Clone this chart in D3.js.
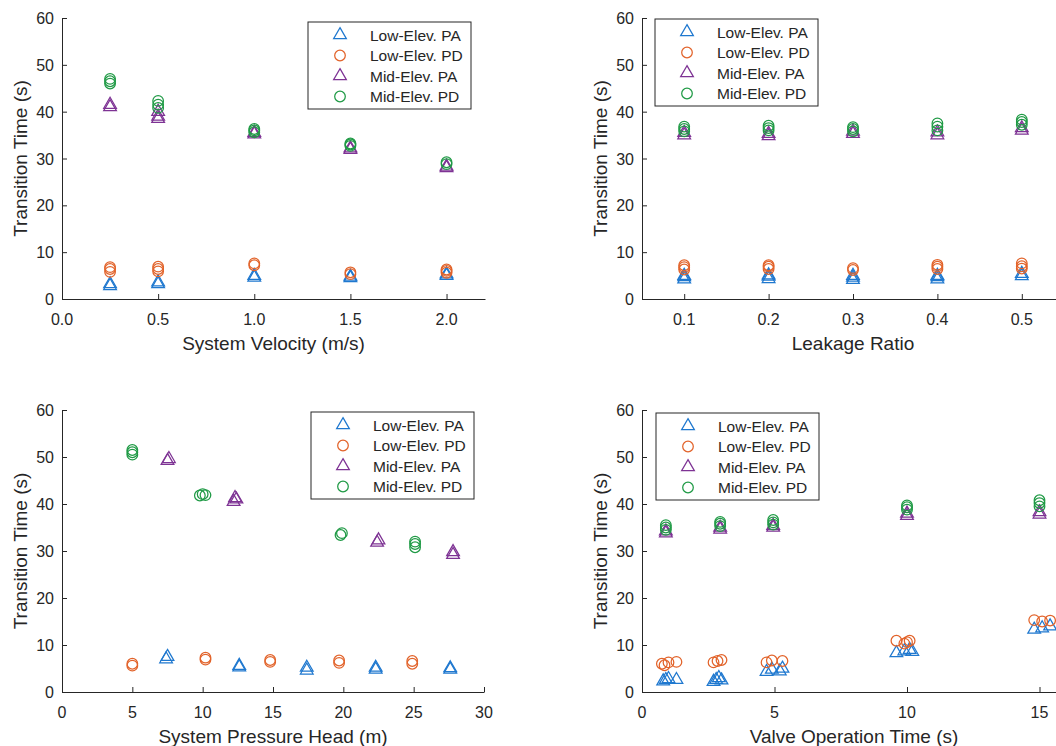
<!DOCTYPE html>
<html>
<head>
<meta charset="utf-8">
<script src="https://cdn.jsdelivr.net/npm/d3@7"></script>
<style>
  body { margin: 0; background: #fff; }
  svg { display: block; font-family: "Liberation Sans", Arial, sans-serif; }
</style>
</head>
<body>
<div id="chart"></div>
<script>
// series shared by all four panels
const seriesNames = ["Low-Elev. PA", "Low-Elev. PD", "Mid-Elev. PA", "Mid-Elev. PD"]
const seriesColors = ["#1f78cf", "#e2632a", "#7e3394", "#1f9a45"]
const seriesShapes = ["triangle", "circle", "triangle", "circle"]

// panel 1: system velocity (m/s)
const velocityTicks = [0, 0.5, 1, 1.5, 2]
const velLowPA = [[0.25, 2.8], [0.25, 3.2], [0.5, 3.2], [0.5, 3.6], [1, 4.6], [1, 5.0], [1.5, 4.5], [1.5, 4.8], [2, 5.0], [2, 5.3]]
const velLowPD = [[0.25, 5.8], [0.25, 6.4], [0.25, 6.8], [0.5, 5.9], [0.5, 6.4], [0.5, 6.9], [1, 7.2], [1, 7.6], [1.5, 5.3], [1.5, 5.7], [2, 5.6], [2, 6.0], [2, 6.3]]
const velMidPA = [[0.25, 41.0], [0.25, 41.5], [0.5, 38.5], [0.5, 39.0], [0.5, 40.0], [1, 35.2], [1, 35.5], [1.5, 31.9], [1.5, 32.2], [2, 28.0], [2, 28.3]]
const velMidPD = [[0.25, 46.0], [0.25, 46.5], [0.25, 47.0], [0.5, 40.8], [0.5, 41.5], [0.5, 42.3], [1, 35.6], [1, 36.0], [1, 36.3], [1.5, 32.7], [1.5, 33.0], [1.5, 33.2], [2, 28.8], [2, 29.2]]

// panel 2: leakage ratio
const leakageTicks = [0.1, 0.2, 0.3, 0.4, 0.5]
const leakLowPA = [[0.1, 4.2], [0.1, 4.7], [0.1, 5.0], [0.2, 4.3], [0.2, 4.8], [0.2, 5.1], [0.3, 4.1], [0.3, 4.6], [0.3, 5.0], [0.4, 4.2], [0.4, 4.7], [0.4, 5.0], [0.5, 4.9], [0.5, 5.4]]
const leakLowPD = [[0.1, 6.3], [0.1, 6.8], [0.1, 7.2], [0.2, 6.4], [0.2, 6.9], [0.2, 7.2], [0.3, 6.2], [0.3, 6.6], [0.4, 6.4], [0.4, 6.9], [0.4, 7.3], [0.5, 6.5], [0.5, 7.0], [0.5, 7.6]]
const leakMidPA = [[0.1, 35.0], [0.1, 35.5], [0.2, 34.8], [0.2, 35.3], [0.3, 35.3], [0.3, 35.8], [0.4, 35.0], [0.4, 35.6], [0.5, 36.0], [0.5, 36.5]]
const leakMidPD = [[0.1, 35.8], [0.1, 36.3], [0.1, 36.8], [0.2, 36.0], [0.2, 36.5], [0.2, 37.0], [0.3, 35.8], [0.3, 36.3], [0.3, 36.7], [0.4, 36.0], [0.4, 36.8], [0.4, 37.5], [0.5, 37.2], [0.5, 37.8], [0.5, 38.3]]

// panel 3: system pressure head (m)
const pressureTicks = [0, 5, 10, 15, 20, 25, 30]
const presLowPA = [[7.4, 7.0], [7.5, 7.5], [12.6, 5.3], [12.6, 5.6], [17.4, 4.6], [17.4, 5.2], [22.3, 4.8], [22.3, 5.2], [27.6, 4.8], [27.6, 5.1]]
const presLowPD = [[5.0, 5.6], [5.0, 6.0], [10.2, 6.9], [10.2, 7.3], [14.8, 6.4], [14.8, 6.8], [19.7, 6.2], [19.7, 6.7], [24.9, 6.0], [24.9, 6.6]]
const presMidPA = [[7.5, 49.2], [7.6, 49.6], [12.2, 40.5], [12.4, 41.0], [12.3, 41.3], [22.4, 31.8], [22.5, 32.3], [27.8, 29.2], [27.8, 29.8]]
const presMidPD = [[5.0, 50.5], [5.0, 51.0], [5.0, 51.5], [9.8, 41.8], [10.0, 42.1], [10.2, 41.9], [19.8, 33.4], [19.9, 33.8], [25.1, 30.8], [25.1, 31.5], [25.1, 32.0]]

// panel 4: valve operation time (s)
const valveTicks = [0, 5, 10, 15]
const valveLowPA = [[0.8, 2.3], [0.9, 2.6], [1.0, 2.8], [1.3, 2.6], [2.7, 2.2], [2.8, 2.6], [2.9, 3.0], [3.0, 2.5], [4.7, 4.3], [4.9, 4.8], [5.2, 4.4], [5.3, 5.0], [9.6, 8.3], [9.9, 8.7], [10.1, 9.0], [10.2, 8.6], [14.8, 13.3], [15.1, 13.6], [15.4, 14.0]]
const valveLowPD = [[0.75, 6.0], [0.85, 5.7], [1.0, 6.3], [1.3, 6.4], [2.7, 6.3], [2.85, 6.6], [3.0, 6.8], [4.7, 6.3], [4.9, 6.7], [5.3, 6.6], [9.6, 10.9], [9.9, 10.3], [10.0, 10.6], [10.1, 10.9], [14.8, 15.3], [15.1, 15.0], [15.4, 15.2]]
const valveMidPA = [[0.9, 33.8], [0.9, 34.2], [2.95, 34.6], [2.95, 35.0], [4.95, 35.0], [4.95, 35.4], [10.0, 37.5], [10.0, 38.0], [15.0, 37.8], [15.0, 38.3]]
const valveMidPD = [[0.9, 34.5], [0.9, 35.0], [0.9, 35.5], [2.95, 35.3], [2.95, 35.8], [2.95, 36.2], [4.95, 35.6], [4.95, 36.1], [4.95, 36.6], [10.0, 38.8], [10.0, 39.3], [10.0, 39.7], [15.0, 39.5], [15.0, 40.2], [15.0, 40.8]]

const yTicks = [0, 10, 20, 30, 40, 50, 60]
const yLabel = "Transition Time (s)"

const width = 1056
const height = 746
const axisColor = "#262626"

const panels = [
  {x0: 62, x1: 485, y0: 299, y1: 18, xDomain: [0, 2.2], xTicks: velocityTicks, fmt: d3.format(".1f"),
   xLabel: "System Velocity (m/s)", legend: [308, 22], series: [velLowPA, velLowPD, velMidPA, velMidPD]},
  {x0: 642, x1: 1064, y0: 299, y1: 18, xDomain: [0.05, 0.55], xTicks: leakageTicks, fmt: d3.format(".1f"),
   xLabel: "Leakage Ratio", legend: [655, 19], series: [leakLowPA, leakLowPD, leakMidPA, leakMidPD]},
  {x0: 62, x1: 484, y0: 692, y1: 410, xDomain: [0, 30], xTicks: pressureTicks, fmt: d3.format("d"),
   xLabel: "System Pressure Head (m)", legend: [311, 412], series: [presLowPA, presLowPD, presMidPA, presMidPD]},
  {x0: 642, x1: 1066, y0: 692, y1: 410, xDomain: [0, 16], xTicks: valveTicks, fmt: d3.format("d"),
   xLabel: "Valve Operation Time (s)", legend: [656, 413], series: [valveLowPA, valveLowPD, valveMidPA, valveMidPD]}
]

const svg = d3.select("#chart")
  .append("svg")
  .attr("width", width)
  .attr("height", height)

const triangle = d3.symbol().type(d3.symbolTriangle).size(70)

function marker(sel, shape, color) {
  if (shape === "triangle") {
    sel.append("path").attr("d", triangle)
  } else {
    sel.append("circle").attr("r", 5.3)
  }
  sel.selectAll("path,circle")
    .attr("fill", "none")
    .attr("stroke", color)
    .attr("stroke-width", 1.25)
}

panels.forEach(p => {
  const x = d3.scaleLinear().domain(p.xDomain).range([p.x0, p.x1])
  const y = d3.scaleLinear().domain([0, 60]).range([p.y0, p.y1])
  const g = svg.append("g")

  // x axis, ticks inside (MATLAB style)
  const xAxis = g.append("g")
    .attr("transform", `translate(0,${p.y0})`)
    .call(d3.axisTop(x).tickValues(p.xTicks).tickSize(5).tickSizeOuter(0).tickFormat(""))
  xAxis.select(".domain").attr("stroke", axisColor)
  xAxis.selectAll(".tick line").attr("stroke", axisColor)
  g.selectAll(".xlab")
    .data(p.xTicks)
    .join("text")
    .attr("x", d => x(d))
    .attr("y", p.y0 + 26)
    .attr("text-anchor", "middle")
    .attr("font-size", 16)
    .attr("fill", axisColor)
    .text(d => p.fmt(d))

  // y axis
  const yAxis = g.append("g")
    .attr("transform", `translate(${p.x0},0)`)
    .call(d3.axisRight(y).tickValues(yTicks).tickSize(5).tickSizeOuter(0).tickFormat(""))
  yAxis.select(".domain").attr("stroke", axisColor)
  yAxis.selectAll(".tick line").attr("stroke", axisColor)
  g.selectAll(".ylab")
    .data(yTicks)
    .join("text")
    .attr("x", p.x0 - 8)
    .attr("y", d => y(d) + 6)
    .attr("text-anchor", "end")
    .attr("font-size", 16)
    .attr("fill", axisColor)
    .text(d => d)

  g.append("text")
    .attr("x", (p.x0 + p.x1) / 2)
    .attr("y", p.y0 + 51)
    .attr("text-anchor", "middle")
    .attr("font-size", 19)
    .attr("fill", axisColor)
    .text(p.xLabel)

  g.append("text")
    .attr("transform", `translate(${p.x0 - 35},${(p.y0 + p.y1) / 2}) rotate(-90)`)
    .attr("text-anchor", "middle")
    .attr("font-size", 19)
    .attr("fill", axisColor)
    .text(yLabel)

  // markers
  p.series.forEach((pts, i) => {
    g.append("g")
      .selectAll("g")
      .data(pts)
      .join("g")
      .attr("transform", d => `translate(${x(d[0])},${y(d[1])})`)
      .each(function() { marker(d3.select(this), seriesShapes[i], seriesColors[i]) })
  })

  // legend
  const lg = g.append("g").attr("transform", `translate(${p.legend[0]},${p.legend[1]})`)
  lg.append("rect")
    .attr("width", 163)
    .attr("height", 87)
    .attr("fill", "#fff")
    .attr("stroke", axisColor)
    .attr("stroke-width", 1)
  seriesNames.forEach((name, i) => {
    const row = lg.append("g").attr("transform", `translate(32,${13 + i * 20.5})`)
    marker(row, seriesShapes[i], seriesColors[i])
    row.append("text")
      .attr("x", 30)
      .attr("y", 5.5)
      .attr("font-size", 15.5)
      .attr("fill", axisColor)
      .text(name)
  })
})
</script>
</body>
</html>
